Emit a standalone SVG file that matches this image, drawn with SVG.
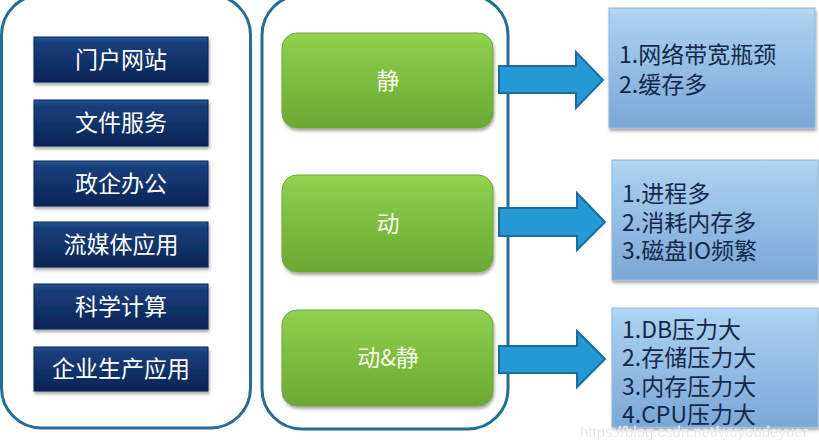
<svg xmlns="http://www.w3.org/2000/svg" width="819" height="440" viewBox="0 0 819 440">
  <defs>
    <linearGradient id="gNavy" x1="0" y1="0" x2="0" y2="1">
      <stop offset="0" stop-color="#2a5596"/>
      <stop offset="0.12" stop-color="#173f7c"/>
      <stop offset="1" stop-color="#0a2455"/>
    </linearGradient>
    <linearGradient id="gGreen" x1="0" y1="0" x2="0" y2="1">
      <stop offset="0" stop-color="#96d452"/>
      <stop offset="0.1" stop-color="#8acd4a"/>
      <stop offset="1" stop-color="#6aa833"/>
    </linearGradient>
    <linearGradient id="gBlue" x1="0" y1="0" x2="0" y2="1">
      <stop offset="0" stop-color="#b6d9f5"/>
      <stop offset="0.08" stop-color="#a9d0f0"/>
      <stop offset="1" stop-color="#7ba7d6"/>
    </linearGradient>
    <filter id="shadow" x="-10%" y="-10%" width="120%" height="130%">
      <feDropShadow dx="1" dy="2.5" stdDeviation="1.5" flood-color="#000" flood-opacity="0.35"/>
    </filter>
    <style>
      .container { fill: #ffffff; stroke: #236d96; stroke-width: 3; }
      .navy { fill: url(#gNavy); stroke: #0a2252; stroke-width: 1; filter: url(#shadow); }
      .green { fill: url(#gGreen); stroke: #6ea63a; stroke-width: 1; filter: url(#shadow); }
      .blue { fill: url(#gBlue); stroke: #8fb8de; stroke-width: 1; filter: url(#shadow); }
      .arrow { fill: #2499d5; stroke: #1b6d9c; stroke-width: 2; stroke-linejoin: miter; }
      .t { font-family: "Noto Sans CJK SC", "Noto Sans", sans-serif; font-size: 23px; }
      .tw { fill: #ffffff; text-anchor: middle; }
      .tg { fill: #f6fbe9; text-anchor: middle; }
      .td { fill: #13294b; }
      .wm { font-family: "Liberation Sans", Arial, sans-serif; font-size: 15px; fill: #d8d8d8; stroke: #ffffff; stroke-width: 0.4; opacity: 0.9; }
    </style>
  </defs>

  <g id="container-left">
    <rect class="container" x="1.5" y="-5" width="249" height="433" rx="40" ry="40"/>
  </g>
  <g id="container-middle">
    <rect class="container" x="262" y="-5" width="246" height="434" rx="40" ry="40"/>
  </g>

  <g id="node-portal">
    <rect class="navy" x="34" y="37" width="174" height="45"/>
    <text class="t tw" x="121" y="68">门户网站</text>
  </g>
  <g id="node-file">
    <rect class="navy" x="34" y="100" width="174" height="46"/>
    <text class="t tw" x="121" y="131">文件服务</text>
  </g>
  <g id="node-office">
    <rect class="navy" x="34" y="161" width="174" height="45"/>
    <text class="t tw" x="121" y="192">政企办公</text>
  </g>
  <g id="node-media">
    <rect class="navy" x="34" y="222" width="174" height="45"/>
    <text class="t tw" x="121" y="253">流媒体应用</text>
  </g>
  <g id="node-science">
    <rect class="navy" x="34" y="284" width="174" height="45"/>
    <text class="t tw" x="121" y="315">科学计算</text>
  </g>
  <g id="node-enterprise">
    <rect class="navy" x="34" y="347" width="174" height="44"/>
    <text class="t tw" x="121" y="377">企业生产应用</text>
  </g>

  <g id="node-static">
    <rect class="green" x="282" y="33" width="211" height="95" rx="15" ry="15"/>
    <text class="t tg" x="388" y="89">静</text>
  </g>
  <g id="node-dynamic">
    <rect class="green" x="282" y="175" width="211" height="97" rx="15" ry="15"/>
    <text class="t tg" x="388" y="232">动</text>
  </g>
  <g id="node-both">
    <rect class="green" x="282" y="310" width="211" height="96" rx="15" ry="15"/>
    <text class="t tg" x="388" y="366">动&amp;静</text>
  </g>

  <g id="connectors">
    <polygon class="arrow" points="499,66 576,66 576,52 603,80 576,108 576,93 499,93"/>
    <polygon class="arrow" points="499,208 577,208 577,193 605,222 577,250 577,236 499,236"/>
    <polygon class="arrow" points="499,346 577,346 577,331 605,359 577,387 577,373 499,373"/>
  </g>

  <g id="node-static-info">
    <rect class="blue" x="609" y="8" width="206" height="120"/>
    <text class="t td" x="619" y="63">1.网络带宽瓶颈</text>
    <text class="t td" x="619" y="93">2.缓存多</text>
  </g>
  <g id="node-dynamic-info">
    <rect class="blue" x="612" y="160" width="206" height="120"/>
    <text class="t td" x="622" y="202">1.进程多</text>
    <text class="t td" x="622" y="231">2.消耗内存多</text>
    <text class="t td" x="622" y="259">3.磁盘IO频繁</text>
  </g>
  <g id="node-both-info">
    <rect class="blue" x="612" y="308" width="206" height="119"/>
    <text class="t td" x="622" y="338">1.DB压力大</text>
    <text class="t td" x="622" y="366">2.存储压力大</text>
    <text class="t td" x="622" y="395">3.内存压力大</text>
    <text class="t td" x="622" y="423">4.CPU压力大</text>
  </g>

  <text class="wm" x="580" y="437">https://blog.csdn.net/wuyoudeyuer</text>
</svg>
